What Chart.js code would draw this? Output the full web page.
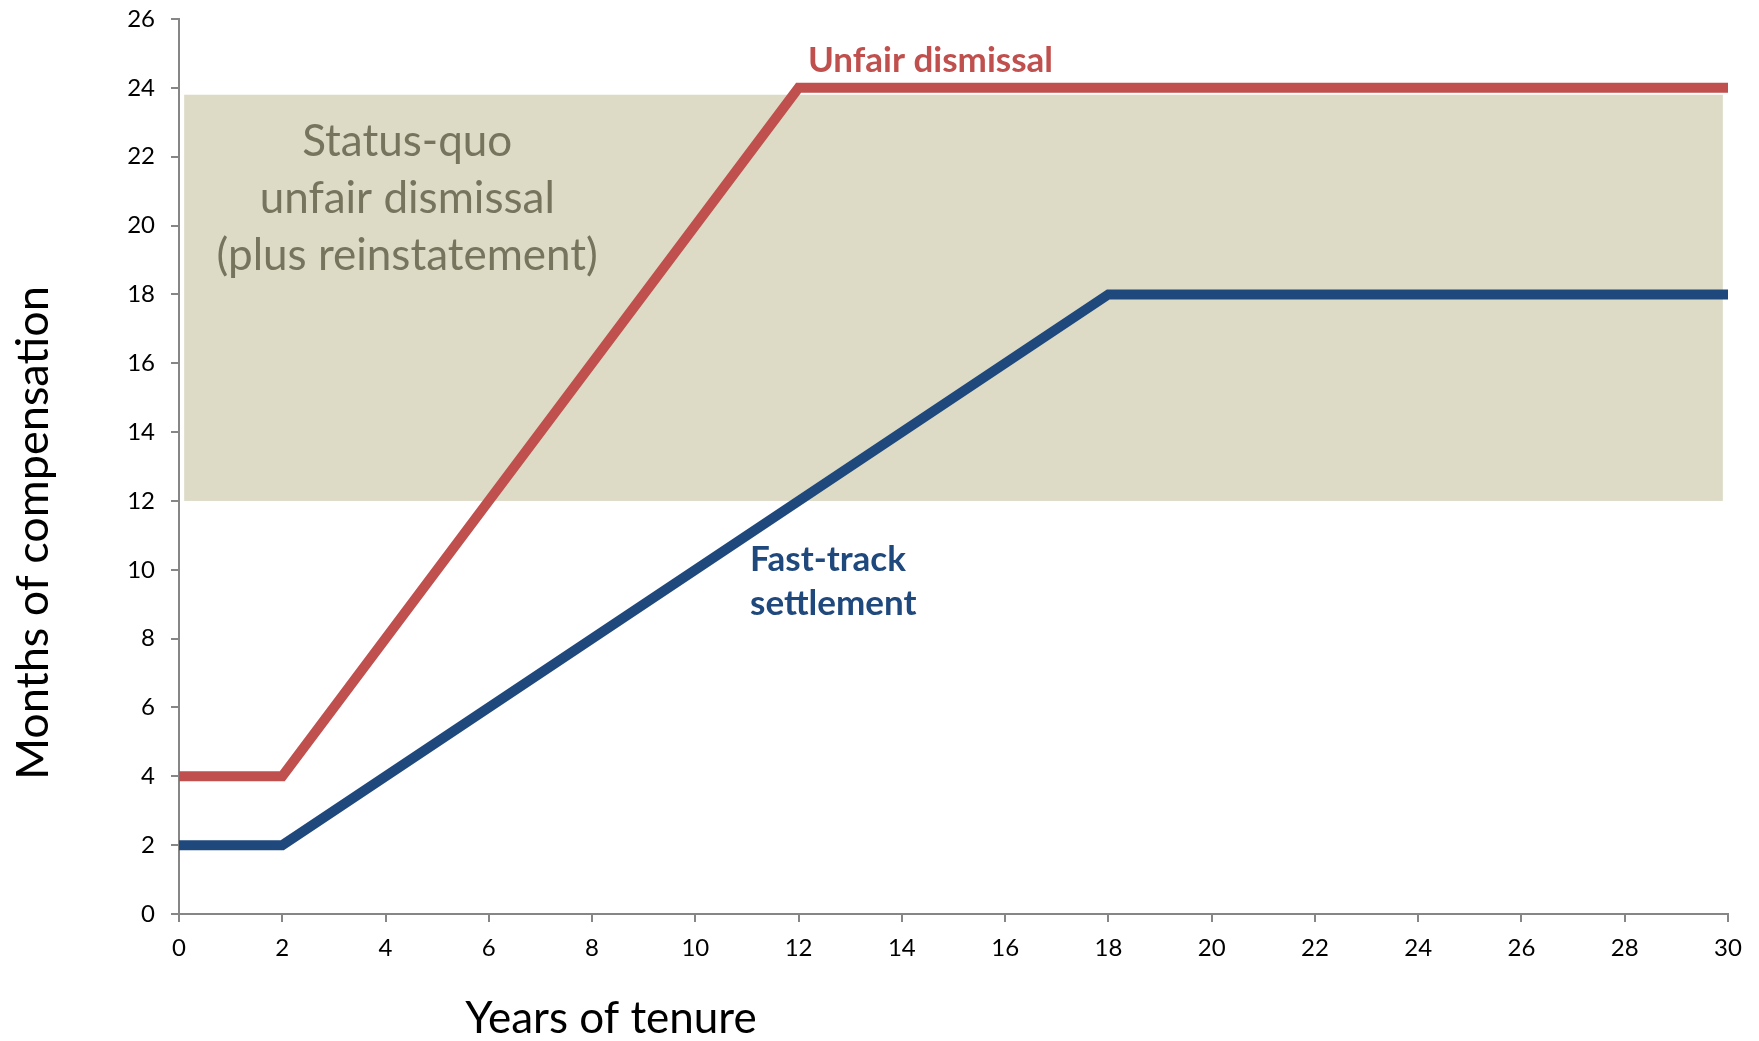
<!DOCTYPE html>
<html>
<head>
<meta charset="utf-8">
<script src="https://cdn.jsdelivr.net/npm/chart.js@4/dist/chart.umd.min.js"></script>
<style>
  html, body { margin: 0; padding: 0; background: #fff; }
  #wrap { width: 1759px; height: 1041px; }
</style>
</head>
<body>
<div id="wrap"><canvas id="chart"></canvas></div>
<script>
// years of tenure at the kinks of each schedule
const unfairYears = [0, 2, 12, 30];
const unfairMonths = [4, 4, 24, 24];
const fastYears = [0, 2, 18, 30];
const fastMonths = [2, 2, 18, 18];

// status-quo range (shaded band)
const bandYears = [0.1, 29.9];
const bandMonths = [12, 23.8];

const xTicks = [0, 2, 4, 6, 8, 10, 12, 14, 16, 18, 20, 22, 24, 26, 28, 30];
const yTicks = [0, 2, 4, 6, 8, 10, 12, 14, 16, 18, 20, 22, 24, 26];

const FONT = "Lato, 'Open Sans', sans-serif";
const axisGrey = '#868686';

const toPoints = (xs, ys) => xs.map((x, i) => ({ x: x, y: ys[i] }));

// shaded band, labels and axis titles
const decorations = {
    id: 'decorations',
    beforeDatasetsDraw(chart) {
        const { ctx, scales: { x, y } } = chart;
        const x0 = x.getPixelForValue(bandYears[0]);
        const x1 = x.getPixelForValue(bandYears[1]);
        const y0 = y.getPixelForValue(bandMonths[1]);
        const y1 = y.getPixelForValue(bandMonths[0]);
        ctx.save();
        ctx.fillStyle = '#DDDBC6';
        ctx.fillRect(x0, y0, x1 - x0, y1 - y0);

        ctx.fillStyle = '#77745E';
        ctx.font = '44px ' + FONT;
        ctx.textAlign = 'center';
        ctx.textBaseline = 'middle';
        const cx = x.getPixelForValue(4.42);
        ctx.fillText('Status-quo', cx, y.getPixelForValue(22.43));
        ctx.fillText('unfair dismissal', cx, y.getPixelForValue(20.77));
        ctx.fillText('(plus reinstatement)', cx, y.getPixelForValue(19.12));
        ctx.restore();
    },
    afterDraw(chart) {
        const { ctx, scales: { x, y } } = chart;
        ctx.save();
        ctx.textBaseline = 'middle';
        ctx.textAlign = 'left';
        ctx.font = 'bold 35px ' + FONT;
        ctx.fillStyle = '#C0504D';
        ctx.fillText('Unfair dismissal', x.getPixelForValue(12.18), y.getPixelForValue(24.78));
        ctx.fillStyle = '#1F497D';
        ctx.fillText('Fast-track', x.getPixelForValue(11.06), y.getPixelForValue(10.3));
        ctx.fillText('settlement', x.getPixelForValue(11.06), y.getPixelForValue(9.0));

        ctx.fillStyle = '#000';
        ctx.font = '44px ' + FONT;
        ctx.textAlign = 'center';
        ctx.fillText('Years of tenure', 611, 1019);
        ctx.translate(33, 533);
        ctx.rotate(-Math.PI / 2);
        ctx.font = '45px ' + FONT;
        ctx.fillText('Months of compensation', 0, 0);
        ctx.restore();
    }
};

new Chart(document.getElementById('chart'), {
    type: 'line',
    data: {
        datasets: [{
            label: 'Unfair dismissal',
            data: toPoints(unfairYears, unfairMonths),
            borderColor: '#C0504D',
            borderWidth: 10,
            pointRadius: 0,
            tension: 0,
            clip: false
        }, {
            label: 'Fast-track settlement',
            data: toPoints(fastYears, fastMonths),
            borderColor: '#1F497D',
            borderWidth: 10,
            pointRadius: 0,
            tension: 0,
            clip: false
        }]
    },
    options: {
        responsive: true,
        maintainAspectRatio: false,
        animation: false,
        layout: {
            padding: { top: 19, right: 31, left: 0, bottom: 0 }
        },
        plugins: {
            legend: { display: false },
            tooltip: { enabled: false }
        },
        scales: {
            x: {
                type: 'linear',
                min: 0,
                max: 30,
                afterFit(scale) {
                    scale.height = 127;
                    scale.paddingLeft = 0;
                    scale.paddingRight = 0;
                },
                afterBuildTicks(scale) { scale.ticks = xTicks.map(v => ({ value: v })); },
                border: { color: axisGrey, width: 2 },
                grid: { drawOnChartArea: false, color: axisGrey, lineWidth: 2, tickLength: 8 },
                ticks: {
                    color: '#000',
                    padding: 12,
                    maxRotation: 0,
                    font: { family: FONT, size: 24 }
                }
            },
            y: {
                type: 'linear',
                min: 0,
                max: 26,
                afterFit(scale) {
                    scale.width = 179;
                    scale.paddingTop = 0;
                    scale.paddingBottom = 0;
                },
                afterBuildTicks(scale) { scale.ticks = yTicks.map(v => ({ value: v })); },
                border: { color: axisGrey, width: 2 },
                grid: { drawOnChartArea: false, color: axisGrey, lineWidth: 2, tickLength: 8 },
                ticks: {
                    color: '#000',
                    padding: 16,
                    font: { family: FONT, size: 24 }
                }
            }
        }
    },
    plugins: [decorations]
});
</script>
</body>
</html>
